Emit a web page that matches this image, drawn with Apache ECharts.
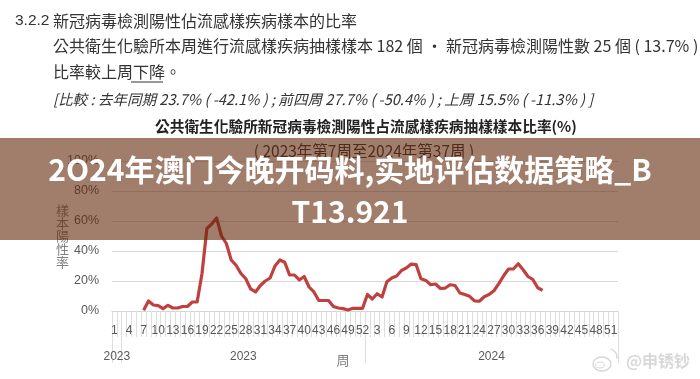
<!DOCTYPE html>
<html><head><meta charset="utf-8">
<style>html,body{margin:0;padding:0;background:#fff}#c{width:700px;height:379px}</style>
<script src="https://cdn.jsdelivr.net/npm/echarts@6/dist/echarts.min.js"></script>
</head><body><div id="c"></div>
<script>
var weeks2023 = [1,2,3,4,5,6,7,8,9,10,11,12,13,14,15,16,17,18,19,20,21,22,23,24,25,26,27,28,29,30,31,32,33,34,35,36,37,38,39,40,41,42,43,44,45,46,47,48,49,50,51,52];
var weeks2024 = [1,2,3,4,5,6,7,8,9,10,11,12,13,14,15,16,17,18,19,20,21,22,23,24,25,26,27,28,29,30,31,32,33,34,35,36,37,38,39,40,41,42,43,44,45,46,47,48,49,50,51,52];
// positive rate, % — 2023 week 7 .. week 52
var rate2023 = [0.5,6.7,4,3.6,1.6,3.8,2,2,3,3,6,6,25,55,58,62,50,45,34,30.5,25,21.5,14.7,12.7,17,20,22,30,34,32.5,24,24,20.7,23,16,12.7,7,7,7,3,2,1.6,0.7,1.8,1.8,1.8];
// 2024 week 1 .. week 37
var rate2024 = [11,8,11.5,9.3,19.5,22,23.3,27,28.7,31.3,31,21.5,20.4,17.5,18,15,15.3,17.5,17,12,11,9.8,6.7,6.5,9.5,11,13.5,18.2,23.5,28,28,31.5,27.5,23,21,15.5,13.7];
var yTicks = ['0%','20%','40%','60%','80%','100%'];
var yearLabels = {1:'2023',27:'2023',78:'2024'};
var yearBreaks = [0,2,52,104];

var leading = [null,null,null,null,null,null];
var categories = weeks2023.map(String).concat(weeks2024.map(String));
var values = leading.concat(rate2023, rate2024);
var CJK = '"Noto Sans CJK TC","Liberation Sans",sans-serif';
var LAT = '"Liberation Sans","Noto Sans CJK TC",sans-serif';
function txt(x,y,s,size,extra){
  return {type:'text',x:x,y:y,z:extra&&extra.z||1,style:Object.assign({text:s,fontSize:size,fontFamily:CJK,fill:'#333',textVerticalAlign:'middle',textAlign:'left'},extra&&extra.style||{})};
}
var chart = echarts.init(document.getElementById('c'),null,{renderer:'canvas'});
chart.setOption({
  animation:false,
  backgroundColor:'#fff',
  grid:{left:112,right:82,top:161,bottom:68,containLabel:false},
  xAxis:[
    {type:'category',data:categories,boundaryGap:true,position:'bottom',
     axisLine:{lineStyle:{color:'#d4d4d4',width:1}},
     axisTick:{show:true,interval:0,length:26,lineStyle:{color:'#dedede'}},
     axisLabel:{interval:2,margin:14,fontSize:12,color:'#595959',fontFamily:LAT,hideOverlap:false}},
    {type:'value',min:0,max:104,position:'bottom',
     name:'周',nameLocation:'middle',nameGap:43,nameMoveOverlap:false,nameTextStyle:{fontFamily:CJK,fontSize:13,color:'#7f7f7f',padding:[0,44,0,0]},
     splitLine:{show:false},axisLine:{show:false},
     axisTick:{show:true,customValues:yearBreaks,length:52,lineStyle:{color:'#dedede'}},
     axisLabel:{margin:40,fontSize:12,color:'#595959',fontFamily:LAT,showMinLabel:true,showMaxLabel:true,
       customValues:Object.keys(yearLabels).map(Number),
       formatter:function(v){return yearLabels[v]||'';}}}
  ],
  yAxis:{type:'value',min:0,max:100,interval:20,
    name:'樣\n本\n陽\n性\n率',nameLocation:'middle',nameRotate:0,nameGap:43,nameMoveOverlap:false,
    nameTextStyle:{fontFamily:CJK,fontSize:13,lineHeight:13.2,color:'#808080',padding:[18,0,0,0]},
    axisLine:{show:false},axisTick:{show:false},
    splitLine:{lineStyle:{color:'#d9d9d9',width:1}},
    axisLabel:{margin:13,fontSize:12.5,color:'#595959',fontFamily:LAT,
      formatter:function(v){return yTicks[v/20];}}},
  series:[{type:'line',xAxisIndex:0,data:values,showSymbol:false,symbol:'none',smooth:false,connectNulls:false,
    lineStyle:{color:'#c0403f',width:3.2,join:'round'},z:3}],
  graphic:{elements:[
    txt(15,21,'3.2.2',15.5,{style:{fontFamily:LAT,fill:'#333'}}),
    txt(53,21,'新冠病毒檢測陽性佔流感樣疾病樣本的比率',16),
    txt(53,46,'公共衛生化驗所本周進行流感樣疾病抽樣樣本 182 個 · 新冠病毒檢測陽性數 25 個 ( 13.7% ) ;',16),
    txt(53,72,'比率較上周下降。',16),
    {type:'line',z:1,shape:{x1:131,y1:82,x2:163,y2:82},style:{stroke:'#333',lineWidth:1}},
    txt(53,99,'[比較 : 去年同期 23.7% ( -42.1% ) ; 前四周 27.7% ( -50.4% ) ; 上周 15.5% ( -11.3% ) ]',14.6,{style:{fontStyle:'italic'}}),
    txt(155,126,'公共衛生化驗所新冠病毒檢測陽性占流感樣疾病抽樣樣本比率(%)',14.7,{style:{fontWeight:'bold',fill:'#222'}}),
    txt(364,151,'( 2023年第7周至2024年第37周 )',15.5,{style:{textAlign:'center',fill:'#333'}}),
    {type:'rect',z:50,shape:{x:0,y:138,width:700,height:102},style:{fill:'rgba(98,38,8,0.6)'}},
    txt(350,170,'2O24年澳门今晚开码料,实地评估数据策略_B',30,{z:51,style:{textAlign:'center',fill:'#fff',fontWeight:'bold',fontFamily:'"Noto Sans CJK SC",sans-serif'}}),
    txt(350,212,'T13.921',30,{z:51,style:{textAlign:'center',fill:'#fff',fontWeight:'bold',fontFamily:'"Noto Sans CJK SC",sans-serif'}}),
    {type:'ellipse',z:5,shape:{cx:602,cy:364,rx:9,ry:7},style:{fill:'none',stroke:'#d8d8d8',lineWidth:1.5}},
    {type:'ellipse',z:5,shape:{cx:600,cy:365,rx:4.5,ry:3},style:{fill:'none',stroke:'#d8d8d8',lineWidth:1}},
    {type:'arc',z:5,shape:{cx:609,cy:357,r:8,startAngle:-1.4,endAngle:0.2},style:{fill:'none',stroke:'#d8d8d8',lineWidth:1.5}},
    txt(626,361,'@申锈钞',16,{z:5,style:{fill:'#d8d8d8',fontWeight:'bold'}})
  ]}
});
</script></body></html>
